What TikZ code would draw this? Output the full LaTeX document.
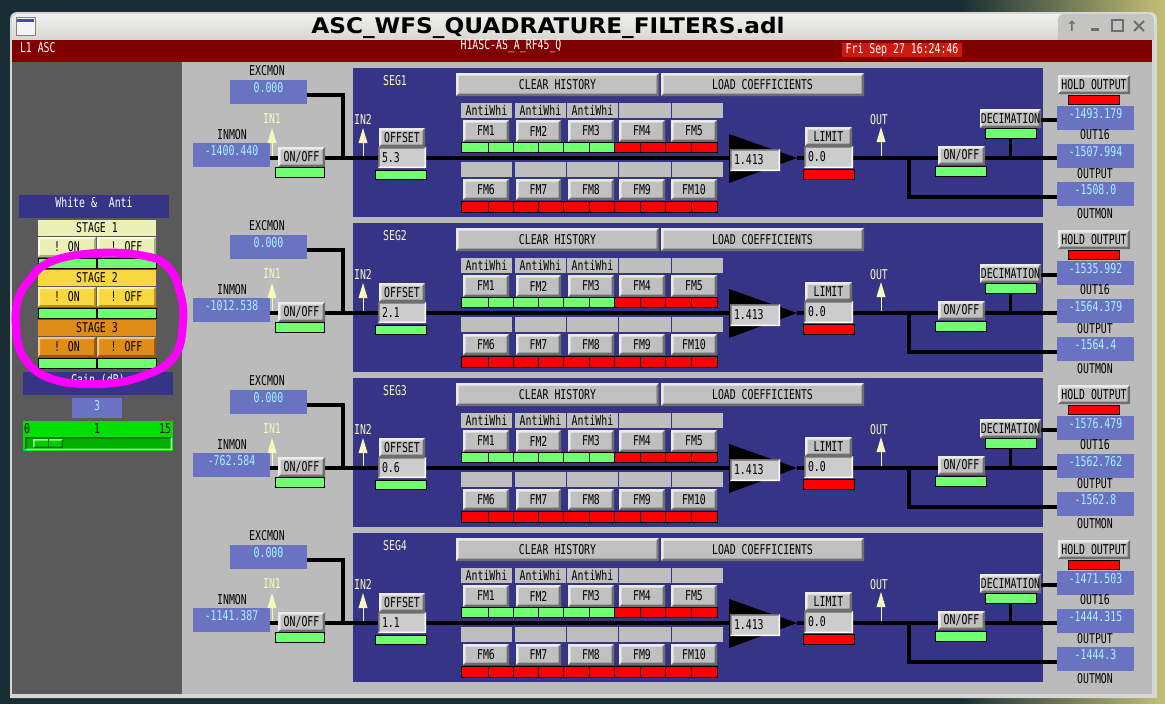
\documentclass[tikz,border=0pt]{standalone}
\usepackage{fontspec}
\usepackage{graphicx}
\newfontfamily\medm[FakeStretch=0.73]{DejaVu Sans Mono}
\newfontfamily\ttlfont{DejaVu Sans}
\newcommand{\mf}{\medm\fontsize{13.5}{13.5}\selectfont}
\pgfdeclarelayer{bg}
\pgfdeclarelayer{wires}
\pgfsetlayers{bg,wires,main}
\definecolor{desk1}{RGB}{24,46,52}
\definecolor{desk2}{RGB}{196,192,118}
\definecolor{winframe}{RGB}{214,214,210}
\definecolor{tb1}{RGB}{240,240,238}
\definecolor{tb2}{RGB}{214,214,210}
\definecolor{tbbtn}{RGB}{196,196,194}
\definecolor{tbicon}{RGB}{110,110,110}
\definecolor{bggrey}{RGB}{187,187,187}
\definecolor{panel}{RGB}{90,90,90}
\definecolor{segblue}{RGB}{54,52,134}
\definecolor{valbox}{RGB}{106,115,193}
\definecolor{valtxt}{RGB}{165,245,255}
\definecolor{btnface}{RGB}{192,192,192}
\definecolor{btnlt}{RGB}{235,235,235}
\definecolor{btndk}{RGB}{110,110,110}
\definecolor{entry}{RGB}{204,204,204}
\definecolor{labgrey}{RGB}{190,190,190}
\definecolor{indgreen}{RGB}{112,255,112}
\definecolor{indred}{RGB}{255,0,0}
\definecolor{barred}{RGB}{128,0,0}
\definecolor{datered}{RGB}{204,26,16}
\definecolor{paleyel}{RGB}{248,248,190}
\definecolor{st1}{RGB}{234,240,182}
\definecolor{st1l}{RGB}{252,252,228}
\definecolor{st1d}{RGB}{170,170,130}
\definecolor{st2}{RGB}{248,216,64}
\definecolor{st2l}{RGB}{255,240,160}
\definecolor{st2d}{RGB}{176,148,40}
\definecolor{st3}{RGB}{224,140,24}
\definecolor{st3l}{RGB}{248,196,120}
\definecolor{st3d}{RGB}{150,90,20}
\definecolor{sldgreen}{RGB}{0,224,0}
\definecolor{slddark}{RGB}{0,176,0}
\definecolor{sldlight}{RGB}{150,255,150}
\definecolor{sldshadow}{RGB}{0,110,0}
\definecolor{sldthumb}{RGB}{0,205,0}
\definecolor{loopmag}{RGB}{255,0,255}
\tikzset{
 bx/.style={anchor=north west,inner sep=0pt,outer sep=0pt,font=\mf},
 bev/.style n args={3}{path picture={
   \coordinate (pa) at (path picture bounding box.south west);
   \coordinate (pb) at (path picture bounding box.north east);
   \coordinate (pc) at (path picture bounding box.north west);
   \coordinate (pd) at (path picture bounding box.south east);
   \fill[#1] (pa) -- (pc) -- (pb) -- ([shift={(-#3,-#3)}]pb) -- ([shift={(#3,-#3)}]pc) -- ([shift={(#3,#3)}]pa) -- cycle;
   \fill[#2] (pa) -- (pd) -- (pb) -- ([shift={(-#3,-#3)}]pb) -- ([shift={(-#3,#3)}]pd) -- ([shift={(#3,#3)}]pa) -- cycle;
 }},
 btn/.style={fill=btnface,bev={btnlt}{btndk}{2.5pt}},
 ent/.style={fill=entry,bev={btndk}{white}{1.5pt}},
 val/.style={fill=valbox,text=valtxt,text height=12.5pt,text depth=11.5pt},
 ind/.style={draw=black,line width=0.9pt},
 lbl/.style={inner sep=0pt,outer sep=0pt,font=\mf,text=black},
 wire/.style={line width=3.5pt,black},
}
\newcommand{\mrect}[7]{\node[bx,minimum width={(#4)-(#2)},minimum height={(#5)-(#3)},#1] (#6) at (#2,#3) {#7};}
\begin{document}
\begin{tikzpicture}[x=1pt,y=-1pt]
\useasboundingbox (0,0) rectangle (1165,704);
\begin{pgfonlayer}{bg}
\fill[desk1] (0,0) rectangle (1165,704);
\shade[left color=desk1,right color=desk2] (960,0) rectangle (1165,704);
\fill[winframe] (10,698) [rounded corners=7pt] -- (10,12) -- (1157,12) [sharp corners] -- (1157,698) -- cycle;
\shade[top color=tb1,bottom color=tb2] (12,40) [rounded corners=6pt] -- (12,14) -- (1155,14) [sharp corners] -- (1155,40) -- cycle;
\fill[tbbtn] (1058,40) [rounded corners=5pt] -- (1058,14) -- (1154,14) [sharp corners] -- (1154,40) -- cycle;
\fill[barred] (12,40) rectangle (1152,62);
\fill[bggrey] (12,62) rectangle (1152,694);
\fill[panel] (12,62) rectangle (182,694);
\end{pgfonlayer}
% title bar
\fill[white!92!gray] (16,17) rectangle (35,35);
\draw[gray,line width=0.8pt] (16,17) rectangle (35,35);
\fill[blue!45!gray] (17,19) rectangle (34,21.5);
\node[font=\ttlfont\bfseries\fontsize{21.5}{21.5}\selectfont,anchor=base,inner sep=0pt] (title) at (548,33) {\scalebox{1.08}[1]{ASC\_WFS\_QUADRATURE\_FILTERS.adl}};
\node[font=\ttlfont\bfseries\fontsize{14}{14}\selectfont,text=tbicon,inner sep=0pt] (tbup) at (1072,26) {↑};
\fill[tbicon] (1091,28) rectangle (1099,31);
\draw[tbicon,line width=1.5pt] (1112,20) rectangle (1123,31);
\draw[tbicon,line width=2pt] (1134,21) -- (1144,31) (1134,31) -- (1144,21);
% red bar
\node[lbl,text=white,anchor=west] (l1) at (20,47.5) {L1 ASC};
\node[lbl,text=white] (chan) at (511,46.5) {H1ASC-AS\_A\_RF45\_Q};
\mrect{fill=datered,text=white}{842}{43}{962}{57}{date}{Fri Sep 27 16:24:46}
% left panel
\mrect{fill=segblue,text=white,text height=12.5pt,text depth=10.5pt}{19}{195}{169}{218}{wa}{White~\&~~Anti}
\foreach \st/\yy/\fc/\lc/\dc in {1/220/st1/st1l/st1d,2/270/st2/st2l/st2d,3/320/st3/st3l/st3d}{
 \mrect{fill=\fc}{38}{\yy}{156}{\yy+16}{stl\st}{STAGE \st}
 \mrect{fill=\fc,bev={\lc}{\dc}{2pt}}{38}{\yy+17}{96}{\yy+37}{ston\st}{! ON}
 \mrect{fill=\fc,bev={\lc}{\dc}{2pt}}{97}{\yy+17}{156}{\yy+37}{stoff\st}{! OFF}
 \mrect{ind,fill=indgreen}{38}{\yy+38}{96}{\yy+48}{stg\st a}{}
 \mrect{ind,fill=indgreen}{97}{\yy+38}{156}{\yy+48}{stg\st b}{}
}
\mrect{fill=segblue,text=white,text height=12.5pt,text depth=10.5pt}{23}{372}{173}{395}{gdb}{Gain (dB)}
\mrect{val,text depth=7.5pt}{72}{398}{122}{418}{gv}{3}
\mrect{fill=sldgreen}{23}{421}{173}{451}{sld}{}
\node[lbl] (s0) at (27,429) {0};
\node[lbl] (s1) at (97,429) {1};
\node[lbl] (s15) at (165,429) {15};
\mrect{fill=slddark,bev={sldshadow}{sldlight}{1.5pt}}{25}{437}{172}{450}{trough}{}
\mrect{fill=sldthumb,bev={sldlight}{sldshadow}{1.5pt}}{33}{439}{63}{448}{thumb}{}
\draw[sldshadow,line width=1pt] (thumb.north) -- (thumb.south);
% segments
\foreach \sg/\inm/\offv/\oa/\ob/\oc in {1/-1400.440/5.3/-1493.179/-1507.994/-1508.0,2/-1012.538/2.1/-1535.992/-1564.379/-1564.4,3/-762.584/0.6/-1576.479/-1562.762/-1562.8,4/-1141.387/1.1/-1471.503/-1444.315/-1444.3}{
 \pgfmathsetmacro{\dy}{155*(\sg-1)}
 \begin{pgfonlayer}{bg}
 \fill[segblue] (353,68+\dy) rectangle (1043,217+\dy);
 \end{pgfonlayer}
 \node[lbl] (excl\sg) at (267,71+\dy) {EXCMON};
 \mrect{val}{230}{80+\dy}{307}{104+\dy}{exc\sg}{0.000}
 \node[lbl,text=paleyel] (inal\sg) at (272,119+\dy) {IN1};
 \node[lbl] (inml\sg) at (232,134.5+\dy) {INMON};
 \mrect{val}{193}{143+\dy}{270}{167+\dy}{inm\sg}{\inm}
 \mrect{btn}{278}{147+\dy}{325}{167+\dy}{oni\sg}{ON/OFF}
 \mrect{ind,fill=indgreen}{275}{167+\dy}{324}{177+\dy}{onig\sg}{}
 \node[lbl,text=paleyel] (segl\sg) at (395,81+\dy) {SEG\sg};
 \node[lbl,text=paleyel] (inbl\sg) at (363,119+\dy) {IN2};
 \node[lbl,text=paleyel] (outl\sg) at (879,120+\dy) {OUT};
 \foreach \ax/\ay in {272/128,363/128,881/127}{
  \fill[paleyel] (\ax,\ay+\dy) -- (\ax+4.5,\ay+15+\dy) -- (\ax-4.5,\ay+15+\dy) -- cycle;
  \draw[paleyel,line width=1pt] (\ax,\ay+14+\dy) -- (\ax,156+\dy);
 }
 \mrect{btn}{379}{128+\dy}{425}{147+\dy}{offb\sg}{OFFSET}
 \mrect{ent}{378}{147+\dy}{426}{168+\dy}{offe\sg}{}
 \node[lbl,anchor=west] (offt\sg) at ([xshift=4pt]offe\sg.west) {\offv};
 \mrect{ind,fill=indgreen}{375}{170+\dy}{426}{179+\dy}{offg\sg}{}
 \mrect{btn}{456}{73+\dy}{659}{96+\dy}{clr\sg}{CLEAR HISTORY}
 \mrect{btn}{661}{73+\dy}{864}{96+\dy}{load\sg}{LOAD COEFFICIENTS}
 \foreach \a/\b/\c/\e [count=\i] in {461/512/463/509,515/566/516/561,567/618/568/614,619/671/619/665,672/723/671/717}{
  \pgfmathtruncatemacro{\j}{\i+5}
  \mrect{fill=labgrey}{\a}{103+\dy}{\b}{118+\dy}{lu\sg-\i}{\ifnum\i<4 AntiWhi\fi}
  \mrect{btn}{\c}{120+\dy}{\e}{142+\dy}{fm\sg-\i}{FM\i}
  \mrect{fill=labgrey}{\a}{162+\dy}{\b}{177+\dy}{ll\sg-\i}{}
  \mrect{btn}{\c}{179+\dy}{\e}{200+\dy}{fm\sg-\j}{FM\j}
 }
 \foreach \a/\b [count=\i] in {461/488,488/513,513/538,538/563,563/589,589/614,614/640,640/665,665/691,691/717}{
  \ifnum\i<7 \def\cc{indgreen}\else\def\cc{indred}\fi
  \mrect{ind,fill=\cc}{\a}{142+\dy}{\b}{152+\dy}{iu\sg-\i}{}
  \mrect{ind,fill=indred}{\a}{201+\dy}{\b}{212+\dy}{il\sg-\i}{}
 }
 \fill[black] (729,134+\dy) -- (729,183+\dy) -- (797,158+\dy) -- cycle;
 \coordinate (tri\sg) at (729,158+\dy);
 \coordinate (apex\sg) at (797,158+\dy);
 \coordinate (jn\sg) at (343,158+\dy);
 \coordinate (br\sg) at (909,158+\dy);
 \mrect{ent}{730}{149+\dy}{780}{171+\dy}{gaine\sg}{}
 \node[lbl,anchor=west] (gaint\sg) at ([xshift=4pt]gaine\sg.west) {1.413};
 \mrect{btn}{805}{127+\dy}{852}{146+\dy}{limb\sg}{LIMIT}
 \mrect{ent}{804}{146+\dy}{853}{168+\dy}{lime\sg}{}
 \node[lbl,anchor=west] (limt\sg) at ([xshift=4pt]lime\sg.west) {0.0};
 \mrect{ind,fill=indred}{803}{169+\dy}{854}{179+\dy}{limr\sg}{}
 \mrect{btn}{938}{146+\dy}{985}{165+\dy}{ono\sg}{ON/OFF}
 \mrect{ind,fill=indgreen}{935}{166+\dy}{986}{176+\dy}{onog\sg}{}
 \mrect{btn}{980}{109+\dy}{1041}{128+\dy}{dec\sg}{DECIMATION}
 \mrect{ind,fill=indgreen}{985}{128+\dy}{1036}{138+\dy}{decg\sg}{}
 \mrect{btn}{1058}{75+\dy}{1130}{94+\dy}{hold\sg}{HOLD OUTPUT}
 \mrect{ind,fill=indred}{1068}{95+\dy}{1119}{104+\dy}{holdr\sg}{}
 \mrect{val}{1057}{106+\dy}{1134}{130+\dy}{o16\sg}{\oa}
 \node[lbl] (o16l\sg) at (1095,134.5+\dy) {OUT16};
 \mrect{val}{1057}{144+\dy}{1134}{168+\dy}{outp\sg}{\ob}
 \node[lbl] (outpl\sg) at (1095,173.5+\dy) {OUTPUT};
 \mrect{val}{1057}{182+\dy}{1134}{206+\dy}{outm\sg}{\oc}
 \node[lbl] (outml\sg) at (1095,213.5+\dy) {OUTMON};
 \path ([yshift=-3pt]exc\sg.east) coordinate (ee\sg);
 \path ([yshift=-3pt]outm\sg.west) coordinate (om\sg);
 \path ([yshift=-1.5pt]dec\sg.east) coordinate (dd\sg);
 \begin{pgfonlayer}{wires}
 \draw[wire] (ee\sg) -| (jn\sg);
 \draw[wire] (inm\sg.east |- tri\sg) -- (tri\sg);
 \draw[wire] (apex\sg) -- (outp\sg.west |- apex\sg);
 \draw[wire] (br\sg) |- (om\sg);
 \draw[wire] (decg\sg.south) -- (decg\sg.south |- apex\sg);
 \draw[wire] (dd\sg) -- (dd\sg -| o16\sg.west);
 \end{pgfonlayer}
}
% magenta loop
\draw[loopmag,line width=8pt] plot[smooth cycle,tension=0.7] coordinates {(28,282) (50,262) (97,253) (145,256) (168,267) (180,292) (183,323) (174,357) (143,376) (100,384) (52,379) (24,358) (16,327) (18,300)};
\end{tikzpicture}
\end{document}
